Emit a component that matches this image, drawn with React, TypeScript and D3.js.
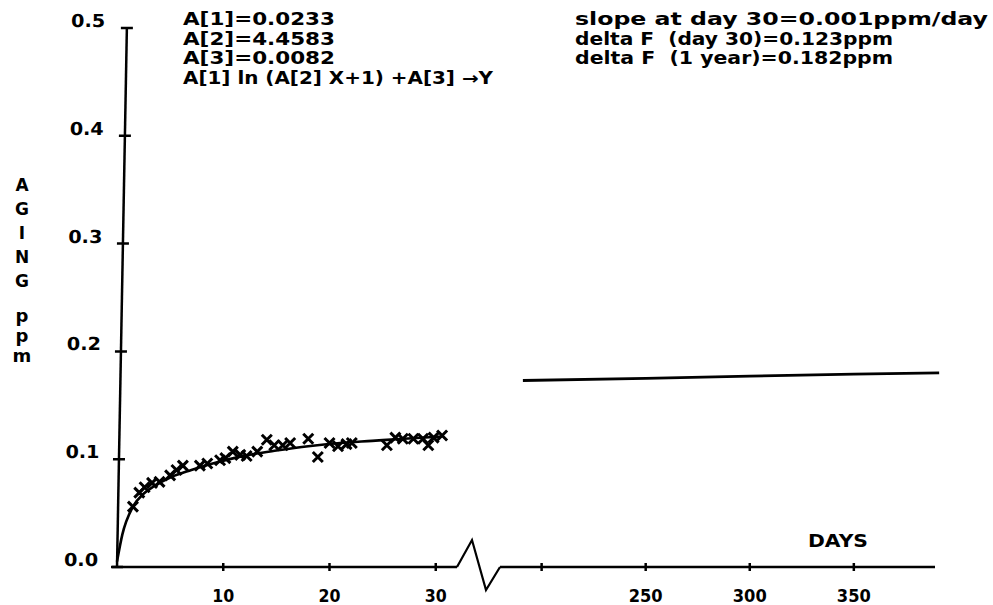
import * as d3 from 'd3'

// early fit range (days) and late range after the axis break
const leftTicks = [10, 20, 30]
const rightTicks = [200, 250, 300, 350]
const rightTickLabels = ['', '250', '300', '350']
const yTicks = [0, 0.1, 0.2, 0.3, 0.4, 0.5]

// measured aging points [day, ppm]
const measured: [number, number][] = [
  [1.5, 0.056], [2.1, 0.069], [2.6, 0.074], [3.3, 0.078], [4.0, 0.079],
  [5.0, 0.085], [5.6, 0.090], [6.2, 0.094], [7.8, 0.094], [8.5, 0.096],
  [9.7, 0.099], [10.2, 0.101], [10.9, 0.107], [11.6, 0.104], [12.2, 0.103],
  [13.2, 0.107], [14.1, 0.118], [14.8, 0.113], [15.6, 0.113], [16.3, 0.115],
  [18.0, 0.119], [18.9, 0.102], [20.0, 0.115], [20.8, 0.112], [21.6, 0.114],
  [22.1, 0.115], [25.4, 0.113], [26.2, 0.120], [26.9, 0.119], [27.9, 0.119],
  [28.8, 0.119], [29.3, 0.113], [29.8, 0.120], [30.6, 0.122],
]

// fitted curve
const fitEarly: [number, number][] = [
  [0, 0.005], [0.5, 0.030], [1.5, 0.056], [2.5, 0.068],
  [3.5, 0.075], [5, 0.083], [7, 0.090], [9, 0.096], [11, 0.101],
  [13, 0.105], [15, 0.108], [18, 0.112], [21, 0.115], [24, 0.117],
  [27, 0.119], [30.6, 0.121],
]
const fitLate: [number, number][] = [
  [191, 0.173], [250, 0.175], [300, 0.177], [350, 0.179], [391, 0.180],
]

const fitParams = ['A[1]=0.0233', 'A[2]=4.4583', 'A[3]=0.0082', 'A[1] ln (A[2] X+1) +A[3] \u2192Y']
const stats = ['slope at day 30=0.001ppm/day', 'delta F  (day 30)=0.123ppm', 'delta F  (1 year)=0.182ppm']
const yTitle = ['A', 'G', 'I', 'N', 'G']
const yUnit = ['p', 'p', 'm']

const W = 993, H = 605
const FONT = '"DejaVu Sans", sans-serif'
const INK = '#000'

export default function App() {
  const xL = d3.scaleLinear().domain([0, 32]).range([117, 457])
  const xR = d3.scaleLinear().domain([180, 389]).range([500, 935])
  const y = d3.scaleLinear().domain([0, 0.5]).range([567, 28])
  const y0 = y(0)

  const lineL = d3.line<[number, number]>().x(d => xL(d[0])).y(d => y(d[1])).curve(d3.curveMonotoneX)
  const lineR = d3.line<[number, number]>().x(d => xR(d[0])).y(d => y(d[1]))

  const breakPath = `M${xL(32)},${y0} L${xL(32) + 15},${y0 - 27} L${xL(32) + 29},${y0 + 23} L${xR(180)},${y0}`

  const leftW = [152, 152, 152, 310]
  const rightW = [413, 318, 318]

  return (
    <svg width={W} height={H} style={{ position: 'absolute', left: 0, top: 0, background: '#fff' }}
      fontFamily={FONT} fontWeight="bold" fill={INK}>
      <rect width={W} height={H} fill="#fff" />

      {/* y axis, slightly slanted like the plot */}
      <g transform={`translate(117,${y0}) skewX(-1.05)`}>
        <line x1={0} x2={0} y1={0} y2={y(0.5) - y0} stroke={INK} strokeWidth={2.5} />
        {yTicks.map(t => (
          <line key={t} x1={-6} x2={6} y1={y(t) - y0} y2={y(t) - y0} stroke={INK} strokeWidth={2.5} />
        ))}
      </g>
      <g transform={`translate(98,${y0}) skewX(-0.75)`}>
        {yTicks.map(t => (
          <text key={t} x={0} y={y(t) - y0 - 1} textAnchor="end" fontSize={18}
            textLength={34} lengthAdjust="spacingAndGlyphs">{t.toFixed(1)}</text>
        ))}
      </g>

      {/* y title */}
      {yTitle.map((c, i) => (
        <text key={'t' + i} x={22} y={191 + i * 24} textAnchor="middle" fontSize={17}>{c}</text>
      ))}
      {yUnit.map((c, i) => (
        <text key={'u' + i} x={22} y={322 + i * 20} textAnchor="middle" fontSize={18}>{c}</text>
      ))}

      {/* x axis with break */}
      <line x1={112} x2={xL(32)} y1={y0} y2={y0} stroke={INK} strokeWidth={2.5} />
      <path d={breakPath} fill="none" stroke={INK} strokeWidth={2.2} strokeLinejoin="miter" />
      <line x1={xR(180)} x2={xR(389)} y1={y0} y2={y0} stroke={INK} strokeWidth={2.5} />
      {leftTicks.map(t => (
        <g key={'l' + t} transform={`translate(${xL(t)},${y0})`}>
          <line y1={-4} y2={4} stroke={INK} strokeWidth={2.5} />
          <text y={35} textAnchor="middle" fontSize={18} textLength={22}
            lengthAdjust="spacingAndGlyphs">{t}</text>
        </g>
      ))}
      {rightTicks.map((t, i) => (
        <g key={'r' + t} transform={`translate(${xR(t)},${y0})`}>
          <line y1={-4} y2={4} stroke={INK} strokeWidth={2.5} />
          {rightTickLabels[i] && (
            <text y={35} textAnchor="middle" fontSize={18} textLength={34}
              lengthAdjust="spacingAndGlyphs">{rightTickLabels[i]}</text>
          )}
        </g>
      ))}
      <text x={838} y={547} textAnchor="middle" fontSize={17} textLength={60}
        lengthAdjust="spacingAndGlyphs">DAYS</text>

      {/* fitted curve */}
      <path d={lineL(fitEarly) ?? ''} fill="none" stroke={INK} strokeWidth={2.6} />
      <path d={lineR(fitLate) ?? ''} fill="none" stroke={INK} strokeWidth={2.8} />

      {/* measured points */}
      {measured.map((d, i) => {
        const cx = xL(d[0]), cy = y(d[1]), s = 5
        return (
          <path key={'m' + i}
            d={`M${cx - s},${cy - s}L${cx + s},${cy + s}M${cx - s},${cy + s}L${cx + s},${cy - s}`}
            stroke={INK} strokeWidth={3} fill="none" />
        )
      })}

      {/* annotations */}
      {fitParams.map((s, i) => (
        <text key={'p' + i} x={183} y={25 + i * 19.5} fontSize={17} xmlSpace="preserve"
          textLength={leftW[i]} lengthAdjust="spacingAndGlyphs">{s}</text>
      ))}
      {stats.map((s, i) => (
        <text key={'s' + i} x={575} y={25 + i * 19.5} fontSize={17} xmlSpace="preserve"
          textLength={rightW[i]} lengthAdjust="spacingAndGlyphs">{s}</text>
      ))}
    </svg>
  )
}
